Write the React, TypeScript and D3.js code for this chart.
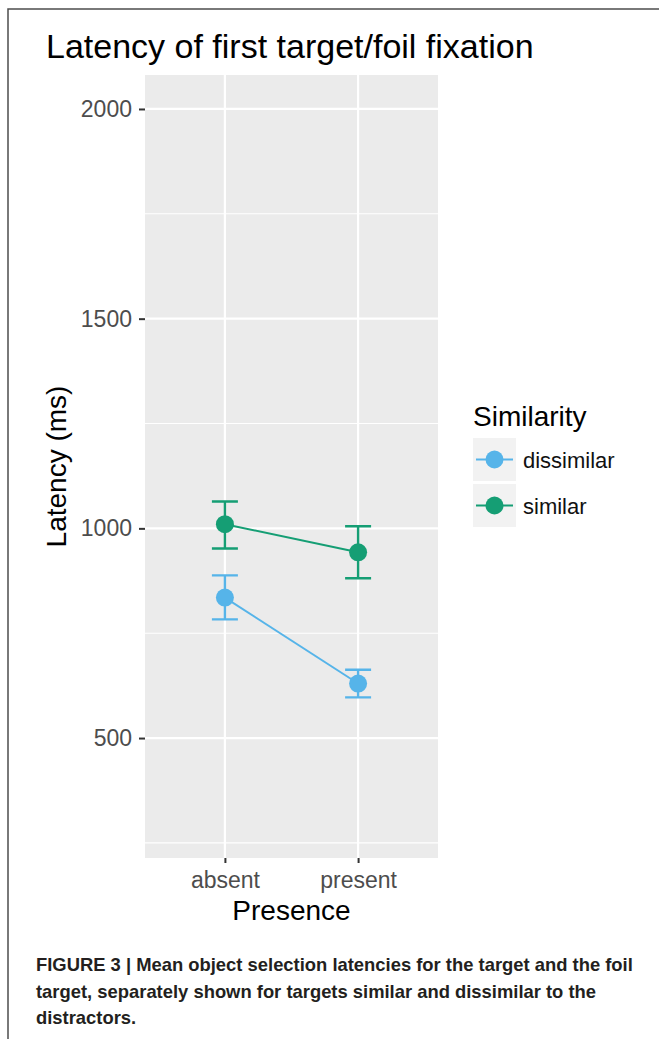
import { useEffect, useRef } from "react"
import * as d3 from "d3"

const presence = ["absent", "present"]
const similarity = ["dissimilar", "similar"]
const seriesColors = ["#56B4E9", "#159E74"]

// mean latency and error bar ends, one value per presence level
const dissimilarMean = [835, 630]
const dissimilarLower = [783, 597]
const dissimilarUpper = [888, 663]
const similarMean = [1010, 943]
const similarLower = [952, 881]
const similarUpper = [1064, 1005]

const yMajor = [500, 1000, 1500, 2000]
const yMinor = [250, 750, 1250, 1750]

const captionLines = [
    "FIGURE 3 | Mean object selection latencies for the target and the foil",
    "target, separately shown for targets similar and dissimilar to the",
    "distractors.",
]

const W = 659
const H = 1039
const panel = { left: 145, right: 438, top: 75, bottom: 858 }
const font = "'Liberation Sans', Arial, Helvetica, sans-serif"

export default function App() {
    const ref = useRef<SVGSVGElement>(null)

    useEffect(() => {
        const svg = d3.select(ref.current)
        svg.selectAll("*").remove()

        const x = d3.scalePoint<string>().domain(presence).range([panel.left, panel.right]).padding(0.6)
        const y = d3.scaleLinear().domain([214, 2081]).range([panel.bottom, panel.top])

        // outer frame (only left and top visible)
        svg.append("path")
            .attr("d", `M8,${H} L8,9 L${W},9`)
            .attr("fill", "none").attr("stroke", "#4d4d4d").attr("stroke-width", 1.5)

        svg.append("text")
            .attr("x", 46).attr("y", 58)
            .attr("font-family", font).attr("font-size", 34).attr("fill", "#000")
            .text("Latency of first target/foil fixation")

        // panel
        svg.append("rect")
            .attr("x", panel.left).attr("y", panel.top)
            .attr("width", panel.right - panel.left).attr("height", panel.bottom - panel.top)
            .attr("fill", "#EBEBEB")

        svg.append("g").selectAll("line").data(yMinor).join("line")
            .attr("x1", panel.left).attr("x2", panel.right)
            .attr("y1", (d) => y(d)).attr("y2", (d) => y(d))
            .attr("stroke", "#fff").attr("stroke-width", 1.1)
        svg.append("g").selectAll("line").data(yMajor).join("line")
            .attr("x1", panel.left).attr("x2", panel.right)
            .attr("y1", (d) => y(d)).attr("y2", (d) => y(d))
            .attr("stroke", "#fff").attr("stroke-width", 2.2)
        svg.append("g").selectAll("line").data(presence).join("line")
            .attr("x1", (d) => x(d)!).attr("x2", (d) => x(d)!)
            .attr("y1", panel.top).attr("y2", panel.bottom)
            .attr("stroke", "#fff").attr("stroke-width", 2.2)

        // axes
        const yAxis = svg.append("g")
            .attr("transform", `translate(${panel.left},0)`)
            .call(d3.axisLeft(y).tickValues(yMajor).tickSize(6).tickPadding(7).tickFormat(d3.format("d")))
        const xAxis = svg.append("g")
            .attr("transform", `translate(0,${panel.bottom})`)
            .call(d3.axisBottom(x).tickSize(5).tickPadding(8.5))
        for (const ax of [yAxis, xAxis]) {
            ax.select(".domain").remove()
            ax.selectAll("line").attr("stroke", "#333").attr("stroke-width", 2)
            ax.selectAll("text").attr("font-family", font).attr("font-size", 23).attr("fill", "#4D4D4D")
        }

        svg.append("text")
            .attr("transform", `translate(66,${(panel.top + panel.bottom) / 2}) rotate(-90)`)
            .attr("text-anchor", "middle")
            .attr("font-family", font).attr("font-size", 28).attr("fill", "#000")
            .text("Latency (ms)")
        svg.append("text")
            .attr("x", (panel.left + panel.right) / 2).attr("y", 920)
            .attr("text-anchor", "middle")
            .attr("font-family", font).attr("font-size", 28).attr("fill", "#000")
            .text("Presence")

        // series
        const series = [
            { name: similarity[0], mean: dissimilarMean, lo: dissimilarLower, hi: dissimilarUpper, color: seriesColors[0] },
            { name: similarity[1], mean: similarMean, lo: similarLower, hi: similarUpper, color: seriesColors[1] },
        ]
        const line = d3.line<number>().x((_, i) => x(presence[i])!).y((d) => y(d))
        const capHalf = 13

        for (const s of series) {
            const g = svg.append("g")
            presence.forEach((p, i) => {
                const cx = x(p)!
                g.append("path")
                    .attr("d", `M${cx - capHalf},${y(s.hi[i])}H${cx + capHalf}M${cx},${y(s.hi[i])}V${y(s.lo[i])}M${cx - capHalf},${y(s.lo[i])}H${cx + capHalf}`)
                    .attr("fill", "none").attr("stroke", s.color).attr("stroke-width", 2.4)
            })
            g.append("path").attr("d", line(s.mean)!)
                .attr("fill", "none").attr("stroke", s.color).attr("stroke-width", 2)
            g.selectAll("circle").data(s.mean).join("circle")
                .attr("cx", (_, i) => x(presence[i])!).attr("cy", (d) => y(d)).attr("r", 9)
                .attr("fill", s.color)
        }

        // legend
        const lg = svg.append("g")
        lg.append("text").attr("x", 473).attr("y", 426)
            .attr("font-family", font).attr("font-size", 28).attr("fill", "#000")
            .text("Similarity")
        series.forEach((s, i) => {
            const top = 438 + i * 46
            lg.append("rect").attr("x", 473).attr("y", top).attr("width", 43).attr("height", 43).attr("fill", "#F2F2F2")
            lg.append("line").attr("x1", 476).attr("x2", 513).attr("y1", top + 21.5).attr("y2", top + 21.5)
                .attr("stroke", s.color).attr("stroke-width", 2)
            lg.append("circle").attr("cx", 494.5).attr("cy", top + 21.5).attr("r", 9).attr("fill", s.color)
            lg.append("text").attr("x", 523).attr("y", top + 29.5)
                .attr("font-family", font).attr("font-size", 22).attr("fill", "#111")
                .text(s.name)
        })

        // caption
        svg.append("g").selectAll("text").data(captionLines).join("text")
            .attr("x", 36).attr("y", (_, i) => 971 + i * 26.5)
            .attr("font-family", font).attr("font-size", 18.4).attr("font-weight", "bold").attr("fill", "#231F20")
            .text((d) => d)
    }, [])

    return (
        <svg ref={ref} width={W} height={H} style={{ position: "absolute", left: 0, top: 0, background: "#fff" }} />
    )
}
